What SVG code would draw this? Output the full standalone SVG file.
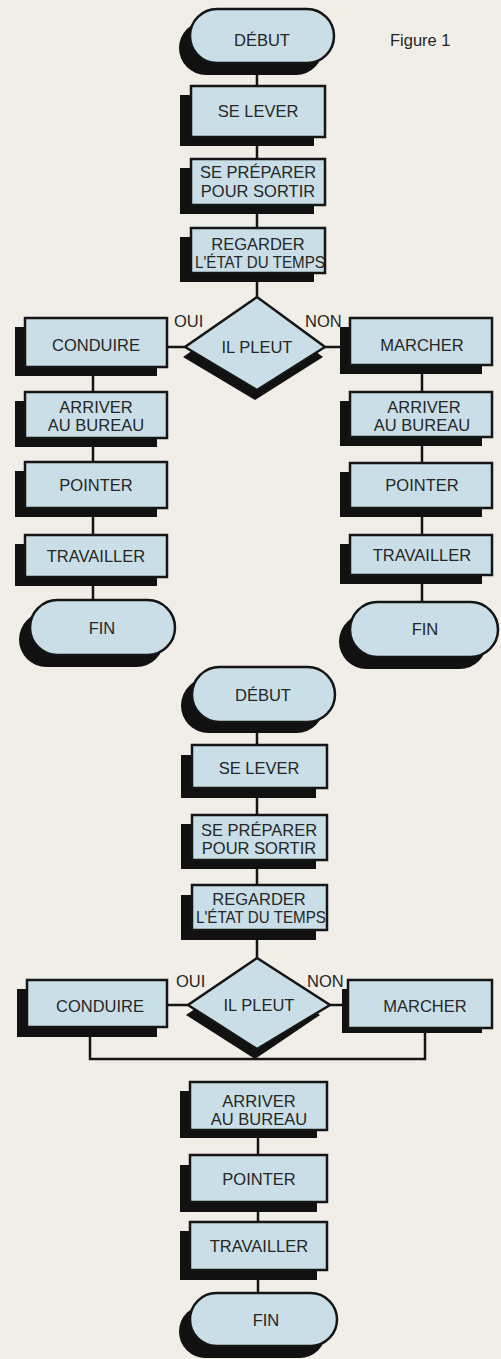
<svg xmlns="http://www.w3.org/2000/svg" width="501" height="1359" viewBox="0 0 501 1359">
<style>
.bg{fill:#f1eee8}
.sh{fill:#111}
.bx{fill:#c9dee7;stroke:#151515;stroke-width:2.5}
.t{font-family:"Liberation Sans",Arial,sans-serif;font-size:16.5px;fill:#262626;text-anchor:middle}
.lb{font-family:"Liberation Sans",Arial,sans-serif;font-size:16.5px;fill:#262626}
.c{fill:none;stroke:#151515;stroke-width:2.5}
</style>
<rect class="bg" x="0" y="0" width="501" height="1359"/>
<text class="lb" x="390" y="46" font-size="17">Figure 1</text>

<g id="connectors">
<path class="c" d="M257,63V86M257,137V159M257,205V228M257,273V297"/>
<path class="c" d="M185,347H167M325,347H350"/>
<path class="c" d="M93,367V392M93,438V462M93,508V535M93,577V600"/>
<path class="c" d="M422,365V392M422,437V463M422,508V535M422,575V602"/>
<path class="c" d="M257,722V745M257,788V815M257,860V885M257,930V958"/>
<path class="c" d="M188,1005H167M330,1005H348"/>
<path class="c" d="M90,1027V1059H425V1028"/>
<path class="c" d="M258,1130V1155M258,1202V1222M258,1270V1293"/>
</g>

<!-- Top chart -->
<g id="debut1"><rect class="sh" x="179" y="21" width="144" height="54" rx="27"/><rect class="bx" x="190" y="9" width="144" height="54" rx="27"/><text class="t" x="262" y="46">DÉBUT</text></g>
<g id="lever1"><rect class="sh" x="180" y="95" width="134" height="51"/><rect class="bx" x="191" y="86" width="134" height="51"/><text class="t" x="258" y="117">SE LEVER</text></g>
<g id="preparer1"><rect class="sh" x="180" y="168" width="134" height="46"/><rect class="bx" x="191" y="159" width="134" height="46"/><text class="t" x="258" y="178">SE PRÉPARER</text><text class="t" x="258" y="197">POUR SORTIR</text></g>
<g id="regarder1"><rect class="sh" x="180" y="237" width="134" height="45"/><rect class="bx" x="191" y="228" width="134" height="45"/><text class="t" x="258" y="250">REGARDER</text><text class="t" x="260" y="268" textLength="130" lengthAdjust="spacingAndGlyphs">L'ÉTAT DU TEMPS</text></g>
<g id="pleut1"><polygon class="sh" points="255,307 183,357 255,400 323,357"/><polygon class="bx" points="257,297 185,347 257,390 325,347"/><text class="t" x="257" y="353">IL PLEUT</text><text class="lb" x="174" y="327">OUI</text><text class="lb" x="305" y="327">NON</text></g>
<g id="conduire1"><rect class="sh" x="15" y="327" width="142" height="49"/><rect class="bx" x="25" y="318" width="142" height="49"/><text class="t" x="96" y="351">CONDUIRE</text></g>
<g id="marcher1"><rect class="sh" x="340" y="327" width="142" height="47"/><rect class="bx" x="350" y="318" width="142" height="47"/><text class="t" x="422" y="351">MARCHER</text></g>
<g id="arriverL"><rect class="sh" x="15" y="401" width="142" height="46"/><rect class="bx" x="25" y="392" width="142" height="46"/><text class="t" x="96" y="413">ARRIVER</text><text class="t" x="96" y="431">AU BUREAU</text></g>
<g id="pointerL"><rect class="sh" x="15" y="471" width="142" height="46"/><rect class="bx" x="25" y="462" width="142" height="46"/><text class="t" x="96" y="491">POINTER</text></g>
<g id="travaillerL"><rect class="sh" x="15" y="544" width="142" height="42"/><rect class="bx" x="25" y="535" width="142" height="42"/><text class="t" x="96" y="562">TRAVAILLER</text></g>
<g id="finL"><rect class="sh" x="19" y="612" width="145" height="55" rx="27.5"/><rect class="bx" x="30" y="600" width="145" height="55" rx="27.5"/><text class="t" x="102" y="634">FIN</text></g>
<g id="arriverR"><rect class="sh" x="340" y="401" width="142" height="45"/><rect class="bx" x="350" y="392" width="142" height="45"/><text class="t" x="424" y="413">ARRIVER</text><text class="t" x="422" y="431">AU BUREAU</text></g>
<g id="pointerR"><rect class="sh" x="340" y="472" width="142" height="45"/><rect class="bx" x="350" y="463" width="142" height="45"/><text class="t" x="422" y="491">POINTER</text></g>
<g id="travaillerR"><rect class="sh" x="340" y="544" width="142" height="40"/><rect class="bx" x="350" y="535" width="142" height="40"/><text class="t" x="422" y="561">TRAVAILLER</text></g>
<g id="finR"><rect class="sh" x="339" y="614" width="148" height="55" rx="27.5"/><rect class="bx" x="350" y="602" width="148" height="55" rx="27.5"/><text class="t" x="425" y="635">FIN</text></g>

<!-- Bottom chart -->
<g id="debut2"><rect class="sh" x="181" y="678" width="143" height="55" rx="27.5"/><rect class="bx" x="192" y="667" width="143" height="55" rx="27.5"/><text class="t" x="263" y="701">DÉBUT</text></g>
<g id="lever2"><rect class="sh" x="181" y="755" width="135" height="43"/><rect class="bx" x="192" y="745" width="135" height="43"/><text class="t" x="259" y="774">SE LEVER</text></g>
<g id="preparer2"><rect class="sh" x="181" y="824" width="135" height="45"/><rect class="bx" x="192" y="815" width="135" height="45"/><text class="t" x="259" y="836">SE PRÉPARER</text><text class="t" x="259" y="854">POUR SORTIR</text></g>
<g id="regarder2"><rect class="sh" x="181" y="895" width="135" height="45"/><rect class="bx" x="192" y="885" width="135" height="45"/><text class="t" x="259" y="905">REGARDER</text><text class="t" x="261" y="923" textLength="130" lengthAdjust="spacingAndGlyphs">L'ÉTAT DU TEMPS</text></g>
<g id="pleut2"><polygon class="sh" points="255,968 186,1015 255,1059 320,1015"/><polygon class="bx" points="257,958 188,1005 257,1049 330,1005"/><text class="t" x="259" y="1011">IL PLEUT</text><text class="lb" x="176" y="987">OUI</text><text class="lb" x="307" y="987">NON</text></g>
<g id="conduire2"><rect class="sh" x="17" y="989" width="140" height="48"/><rect class="bx" x="27" y="980" width="140" height="47"/><text class="t" x="100" y="1012">CONDUIRE</text></g>
<g id="marcher2"><rect class="sh" x="342" y="989" width="140" height="44"/><rect class="bx" x="348" y="980" width="144" height="48"/><text class="t" x="425" y="1012">MARCHER</text></g>
<g id="arriver2"><rect class="sh" x="180" y="1091" width="137" height="47"/><rect class="bx" x="190" y="1082" width="137" height="48"/><text class="t" x="259" y="1107">ARRIVER</text><text class="t" x="259" y="1125">AU BUREAU</text></g>
<g id="pointer2"><rect class="sh" x="180" y="1165" width="137" height="47"/><rect class="bx" x="190" y="1155" width="137" height="47"/><text class="t" x="259" y="1185">POINTER</text></g>
<g id="travailler2"><rect class="sh" x="180" y="1231" width="137" height="49"/><rect class="bx" x="190" y="1222" width="137" height="48"/><text class="t" x="259" y="1252">TRAVAILLER</text></g>
<g id="fin2"><rect class="sh" x="179" y="1305" width="147" height="53" rx="26.5"/><rect class="bx" x="190" y="1293" width="147" height="53" rx="26.5"/><text class="t" x="266" y="1326">FIN</text></g>
</svg>
